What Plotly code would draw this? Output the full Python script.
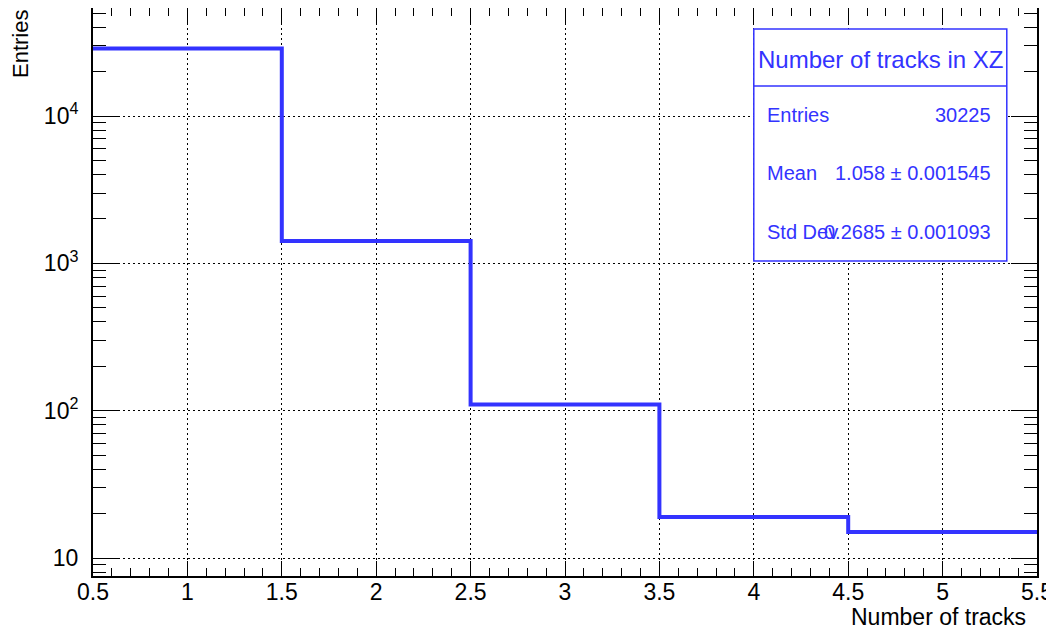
import plotly.graph_objects as go

bin_edges = [0.5, 1.5, 2.5, 3.5, 4.5, 5.5]
counts = [28661, 1420, 110, 19, 15]
y_tick_vals = [10, 100, 1000, 10000]
y_tick_text = ["10", "10<sup>2</sup>", "10<sup>3</sup>", "10<sup>4</sup>"]
x_tick_vals = [0.5, 1, 1.5, 2, 2.5, 3, 3.5, 4, 4.5, 5, 5.5]
x_tick_text = ["0.5", "1", "1.5", "2", "2.5", "3", "3.5", "4", "4.5", "5", "5.5"]
stats_title = "Number of tracks in XZ"
stats_labels = ["Entries", "Mean", "Std Dev"]
stats_values = ["30225", "1.058 \u00b1 0.001545", "0.2685 \u00b1 0.001093"]

blue = "#3333ff"
font = "Liberation Sans, Arial, sans-serif"

fig = go.Figure()
fig.add_trace(go.Scatter(
    x=bin_edges,
    y=counts + [counts[-1]],
    mode="lines",
    line=dict(shape="hv", color=blue, width=4),
    hoverinfo="skip",
    showlegend=False,
))

# page places the figure at an 8px body offset
fig.update_layout(
    width=1046, height=623,
    margin=dict(l=85, r=17, t=0, b=55),
    paper_bgcolor="white", plot_bgcolor="white",
    font=dict(family=font, size=23, color="black"),
    showlegend=False,
)

grid_dash = "2px,3px"
fig.update_xaxes(
    range=[0.5, 5.5], automargin=False,
    tickvals=x_tick_vals, ticktext=x_tick_text,
    ticks="inside", ticklen=15, tickwidth=1, tickcolor="black",
    showline=True, linecolor="black", linewidth=2, mirror="allticks",
    showgrid=True, gridcolor="black", gridwidth=1, griddash=grid_dash,
    minor=dict(ticks="inside", ticklen=8, dtick=0.1, tickcolor="black", showgrid=False),
    zeroline=False,
    tickfont=dict(size=23, family=font),
    ticklabelstandoff=-6,
)
fig.update_yaxes(
    type="log", range=[0.878, 4.733], automargin=False,
    tickvals=y_tick_vals, ticktext=y_tick_text,
    ticks="inside", ticklen=26, tickwidth=1, tickcolor="black",
    showline=True, linecolor="black", linewidth=2, mirror="allticks",
    showgrid=True, gridcolor="black", gridwidth=1, griddash=grid_dash,
    minor=dict(ticks="inside", ticklen=13, dtick="D1", tickcolor="black", showgrid=False),
    zeroline=False,
    tickfont=dict(size=23, family=font),
    ticklabelstandoff=8,
)

# Stats box
bx0, bx1, by0, by1, bdiv = 0.700, 0.968, 0.5546, 0.963, 0.8627
fig.add_shape(type="rect", xref="paper", yref="paper", x0=bx0, x1=bx1, y0=by0, y1=by1,
              line=dict(color=blue, width=1.5), fillcolor="white", layer="above")
fig.add_shape(type="line", xref="paper", yref="paper", x0=bx0, x1=bx1, y0=bdiv, y1=bdiv,
              line=dict(color=blue, width=1.5), layer="above")
fig.add_annotation(xref="paper", yref="paper", x=(bx0 + bx1) / 2, y=(by1 + bdiv) / 2 - 0.004,
                   text=stats_title, showarrow=False, xanchor="center", yanchor="middle",
                   font=dict(size=24, color=blue, family=font))
row_h = (bdiv - by0) / 3
for i, (lab, val) in enumerate(zip(stats_labels, stats_values)):
    yy = bdiv - row_h * (i + 0.5)
    fig.add_annotation(xref="paper", yref="paper", x=bx0 + 0.012, y=yy, text=lab,
                       showarrow=False, xanchor="left", yanchor="middle",
                       font=dict(size=20, color=blue, family=font))
    fig.add_annotation(xref="paper", yref="paper", x=bx1 - 0.015, y=yy, text=val,
                       showarrow=False, xanchor="right", yanchor="middle",
                       font=dict(size=20, color=blue, family=font))

# Axis titles (ROOT style placement)
fig.add_annotation(xref="paper", yref="paper", x=0.9905, y=-0.072, text="Number of tracks",
                   showarrow=False, xanchor="right", yanchor="middle",
                   font=dict(size=23, family=font, color="black"))
fig.add_annotation(xref="paper", yref="paper", x=-0.0773, y=1.0, text="Entries",
                   showarrow=False, xanchor="center", yanchor="top", textangle=-90,
                   font=dict(size=22, family=font, color="black"))

fig.write_html("out.html")
